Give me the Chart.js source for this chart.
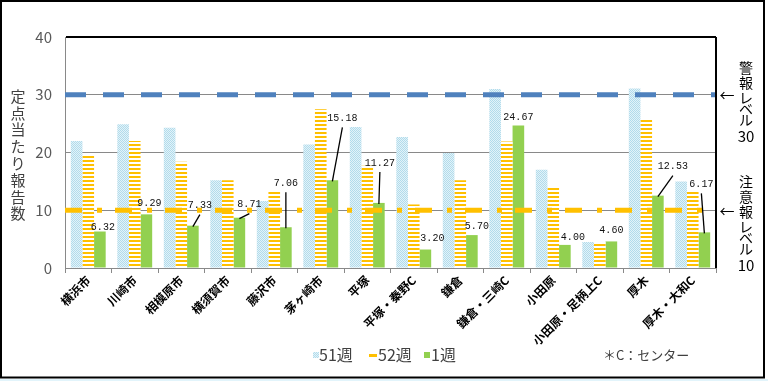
<!DOCTYPE html>
<html>
<head>
<meta charset="utf-8">
<script src="https://cdn.jsdelivr.net/npm/chart.js@4/dist/chart.umd.min.js"></script>
<style>
  html, body { margin: 0; padding: 0; background: #fff; }
  canvas { display: block; }
</style>
</head>
<body>
<canvas id="chart" width="768" height="381"></canvas>
<script>
// data
const categories = ["横浜市", "川崎市", "相模原市", "横須賀市", "藤沢市", "茅ヶ崎市", "平塚", "平塚・秦野C",
                    "鎌倉", "鎌倉・三崎C", "小田原", "小田原・足柄上C", "厚木", "厚木・大和C"];
const seriesNames = ["51週", "52週", "1週"];
const week51 = [22.0, 24.9, 24.3, 15.2, 11.6, 21.4, 24.4, 22.7, 19.9, 31.0, 17.0, 4.5, 31.1, 15.0];
const week52 = [19.4, 22.0, 18.4, 15.2, 13.3, 27.5, 17.7, 11.0, 15.2, 21.9, 14.2, 4.5, 25.9, 13.5];
const week1 = [6.32, 9.29, 7.33, 8.71, 7.06, 15.18, 11.27, 3.20, 5.70, 24.67, 4.00, 4.60, 12.53, 6.17];
const yTicks = [0, 10, 20, 30, 40];
const levelValues = [30, 10];
const levelTexts = ["警報レベル", "注意報レベル"];
const yTitle = "定点当たり報告数";
const noteText = "＊C：センター";

// label placement for the 1週 values (offset from bar top, and whether a leader line is drawn)
const labelOffsets = [[3,-4],[3,-11],[7,-20],[10,-13],[0,-44],[10,-62],[1,-40],[7,-11],[5,-9],[0,-8],[8,-8],[0,-11],[15,-29],[-3,-48]];
const leaders = [0,0,1,1,1,1,1,0,0,0,0,0,1,1];

const JP = '"Noto Sans CJK JP", "Noto Sans", sans-serif';

const canvas = document.getElementById("chart");
const ctx = canvas.getContext("2d");

function makePattern(w, h, draw) {
    const c = document.createElement("canvas");
    c.width = w; c.height = h;
    draw(c.getContext("2d"));
    return ctx.createPattern(c, "repeat");
}

const dotPattern = makePattern(4, 4, g => {
    g.fillStyle = "#e2f3f9";
    g.fillRect(0, 0, 4, 4);
    g.fillStyle = "#b2dbeb";
    for (let x = 0; x < 4; x++)
        for (let y = 0; y < 4; y++)
            if ((x + y) % 2 === 0) g.fillRect(x, y, 1, 1);
});

const stripePattern = makePattern(4, 4, g => {
    g.fillStyle = "#ffffff";
    g.fillRect(0, 0, 4, 4);
    g.fillStyle = "#ffc000";
    g.fillRect(0, 0, 4, 2);
});

const levelStyles = [
    { color: "#4f81bd", dash: [21, 17] },
    { color: "#ffc000", dash: [17, 15, 5, 13] }
];

const decor = {
    id: "decor",
    beforeDraw(chart) {
        const c = chart.ctx;
        c.save();
        c.fillStyle = "#fff";
        c.fillRect(0, 0, chart.width, chart.height);
        c.restore();
    },
    afterDatasetsDraw(chart) {
        const c = chart.ctx;
        const area = chart.chartArea;
        const y = chart.scales.y;
        c.save();

        // level lines
        levelValues.forEach((v, i) => {
            const py = y.getPixelForValue(v);
            c.strokeStyle = levelStyles[i].color;
            c.lineWidth = 5;
            c.setLineDash(levelStyles[i].dash);
            c.beginPath();
            c.moveTo(area.left, py);
            c.lineTo(area.right, py);
            c.stroke();
        });
        c.setLineDash([]);

        // right border of plot
        c.strokeStyle = "#000";
        c.lineWidth = 2;
        c.beginPath();
        c.moveTo(area.right, area.top);
        c.lineTo(area.right, area.bottom);
        c.stroke();

        // value labels on 1週 bars
        const meta = chart.getDatasetMeta(2);
        c.font = '10px "Liberation Mono", monospace';
        c.fillStyle = "#111";
        c.textAlign = "center";
        c.textBaseline = "middle";
        meta.data.forEach((bar, i) => {
            const lx = bar.x + labelOffsets[i][0];
            const ly = bar.y + labelOffsets[i][1];
            c.fillText(week1[i].toFixed(2), lx, ly);
            if (leaders[i]) {
                c.strokeStyle = "#000";
                c.lineWidth = 1.3;
                c.beginPath();
                c.moveTo(lx, ly + 9);
                c.lineTo(bar.x, bar.y + 1);
                c.stroke();
            }
        });
        c.restore();
    },
    afterDraw(chart) {
        const c = chart.ctx;
        const area = chart.chartArea;
        const y = chart.scales.y;
        c.save();

        // y title, vertical
        c.font = "15px " + JP;
        c.fillStyle = "#404040";
        c.textAlign = "center";
        c.textBaseline = "middle";
        [...yTitle].forEach((ch, i) => c.fillText(ch, 18, 96 + i * 16.8));

        // level annotations on the right
        levelValues.forEach((v, i) => {
            const py = y.getPixelForValue(v);
            c.font = "15px " + JP;
            c.fillStyle = "#000";
            c.fillText("←", area.right + 11, py + 1);
            const chars = [...levelTexts[i]];
            let ty = (i === 0) ? 68 : 182;
            c.font = "14px " + JP;
            chars.forEach(ch => {
                c.fillText(ch, 746, ty);
                ty += /[\u30a0-\u30ff]/.test(ch) ? 11 : 15;
            });
            c.font = "15px " + JP;
            c.fillText(String(v), 746, ty + 5);
        });

        // legend
        const legendX = [313, 369, 424];
        const ly = 355;
        c.font = "16px " + JP;
        c.textAlign = "left";
        c.fillStyle = dotPattern;
        c.fillRect(legendX[0], ly - 3, 6, 6);
        c.fillStyle = "#ffc000";
        c.fillRect(legendX[1], ly - 1, 8, 3);
        c.fillStyle = "#92d050";
        c.fillRect(legendX[2], ly - 3, 6, 6);
        c.fillStyle = "#404040";
        c.fillText(seriesNames[0], legendX[0] + 6, ly);
        c.fillText(seriesNames[1], legendX[1] + 9, ly);
        c.fillText(seriesNames[2], legendX[2] + 7, ly);

        c.font = "13px " + JP;
        c.fillText(noteText, 603, ly);

        // outer frame
        c.strokeStyle = "#000";
        c.lineWidth = 2;
        c.strokeRect(1, 1, 763, 376.5);
        c.fillStyle = "#e2f4fb";
        c.fillRect(0, 379, chart.width, 2);
        c.restore();
    }
};

new Chart(canvas, {
    type: "bar",
    data: {
        labels: categories,
        datasets: [
            { label: seriesNames[0], data: week51, backgroundColor: dotPattern },
            { label: seriesNames[1], data: week52, backgroundColor: stripePattern },
            { label: seriesNames[2], data: week1, backgroundColor: "#92d050" }
        ]
    },
    options: {
        responsive: false,
        animation: false,
        devicePixelRatio: 1,
        categoryPercentage: 0.75,
        barPercentage: 1,
        layout: { padding: { top: 37, right: 52, left: 0, bottom: 0 } },
        plugins: { legend: { display: false }, tooltip: { enabled: false } },
        scales: {
            x: {
                grid: { offset: true, drawOnChartArea: false, drawTicks: true, tickLength: 5, color: "#898989" },
                border: { color: "#898989", width: 1 },
                ticks: {
                    autoSkip: false, minRotation: 45, maxRotation: 45, padding: 0,
                    color: "#000", font: { family: JP, size: 12, weight: "bold" }
                },
                afterFit(s) { s.height = 113; }
            },
            y: {
                min: 0, max: 40,
                afterBuildTicks(s) { s.ticks = yTicks.map(v => ({ value: v })); },
                grid: {
                    drawTicks: false,
                    color: c => c.tick && c.tick.value === 40 ? "#000" : "#898989",
                    lineWidth: c => c.tick && c.tick.value === 40 ? 2 : 1
                },
                border: { color: "#898989", width: 1 },
                ticks: { padding: 13, color: "#595959", font: { family: JP, size: 15 } },
                afterFit(s) { s.width = 65; }
            }
        }
    },
    plugins: [decor]
});
</script>
</body>
</html>
